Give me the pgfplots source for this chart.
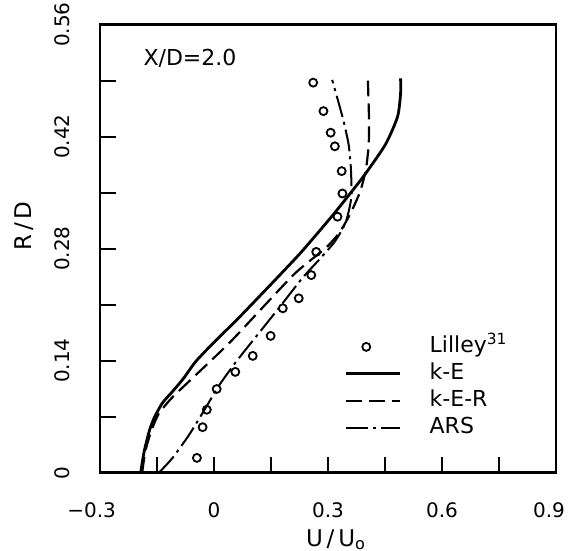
\documentclass[border=0pt]{standalone}
\usepackage{fontspec}
\setmainfont{DejaVu Sans}
\usepackage{pgfplots}
\pgfplotsset{compat=1.18}
\begin{document}
\begin{tikzpicture}
\begin{axis}[
  width=228pt, height=224pt, scale only axis,
  xmin=-0.3, xmax=0.9, ymin=0, ymax=0.56,
  xtick={-0.3,0,0.3,0.6,0.9}, xticklabels={\llap{−}0.3,0,0.3,0.6,\hspace*{-7pt}0.9},
  minor xtick={-0.15,0.15,0.45,0.75},
  ytick={0,0.14,0.28,0.42,0.56}, yticklabels={0,0.14,0.28,0.42,0.56},
  minor ytick={0.07,0.21,0.35,0.49},
  tick align=inside, tick pos=left,
  major tick length=8pt, minor tick length=8pt,
  every tick/.style={black, line width=1pt},
  axis line style={line width=1.4pt},
  ticklabel style={font=\fontsize{10}{12}\selectfont},
  yticklabel style={rotate=90, anchor=south},
  yticklabel shift=11.7pt, xticklabel shift=11.2pt,
  xlabel={U\,/\,U\textsubscript{o}}, ylabel={R\,/\,D},
  label style={font=\fontsize{11.5}{13}\selectfont},
  xlabel style={at={(axis description cs:0.5175,-0.1496)}, anchor=center},
  ylabel style={at={(axis description cs:-0.1667,0.551)}, anchor=center},
  legend image code/.code={\draw[#1] (0pt,0pt) -- (27pt,0pt);},
  legend cell align=left,
  legend style={draw=none, fill=none, inner sep=0pt, outer sep=0pt,
    font=\fontsize{11}{13}\selectfont,
    at={(axis description cs:0.537,0.311)}, anchor=north west,
    row sep=0pt, column sep=12.5pt,
    nodes={inner sep=1.5pt, text height=8pt, text depth=2.5pt}},
]
\addplot[only marks, mark=o, mark size=2pt, line width=0.9pt, black,
  legend image code/.code={\draw[black, line width=0.9pt] plot[mark=o, mark size=2pt] coordinates {(10pt,0pt)};}]
  coordinates {
  (0.261,0.4876) (0.288,0.452) (0.307,0.425) (0.318,0.408) (0.336,0.377)
  (0.338,0.349) (0.325,0.320) (0.269,0.276) (0.256,0.247) (0.223,0.218)
  (0.181,0.2055) (0.149,0.171) (0.102,0.146) (0.056,0.126) (0.007,0.1046)
  (-0.019,0.0787) (-0.030,0.0569) (-0.045,0.0185)
};
\addlegendentry{Lilley\textsuperscript{31}}
\addplot[black, line width=1.4pt, smooth, tension=0.4] coordinates {
  (-0.193,0) (-0.184,0.026) (-0.171,0.051) (-0.158,0.068) (-0.136,0.087)
  (-0.110,0.101) (-0.080,0.118) (-0.048,0.139) (0.000,0.163) (0.066,0.194)
  (0.171,0.246) (0.232,0.277) (0.311,0.321) (0.360,0.350) (0.399,0.374)
  (0.452,0.411) (0.483,0.445) (0.491,0.474) (0.491,0.493)
};
\addlegendentry{k-E}
\addplot[black, line width=1.1pt, smooth, tension=0.4, dash pattern=on 8pt off 3.5pt] coordinates {
  (-0.189,0) (-0.181,0.026) (-0.166,0.051) (-0.145,0.074) (-0.110,0.094)
  (-0.066,0.114) (0.040,0.162) (0.127,0.206) (0.215,0.250) (0.294,0.281)
  (0.330,0.300) (0.360,0.325) (0.385,0.352) (0.400,0.380) (0.407,0.410)
  (0.408,0.440) (0.405,0.490)
};
\addlegendentry{k-E-R}
\addplot[black, line width=1pt, smooth, tension=0.4, dash pattern=on 11pt off 2.5pt on 1.5pt off 2.5pt] coordinates {
  (-0.145,0) (-0.110,0.018) (-0.066,0.047) (-0.022,0.081) (0.009,0.106)
  (0.040,0.127) (0.066,0.1435) (0.171,0.206) (0.232,0.243) (0.280,0.268)
  (0.318,0.289) (0.345,0.311) (0.357,0.332) (0.362,0.349) (0.360,0.382)
  (0.354,0.411) (0.338,0.445) (0.311,0.491)
};
\addlegendentry{ARS}
\node[font=\fontsize{11}{13}\selectfont] at (axis cs:-0.0632,0.518) {X/D=2.0};
\end{axis}
\pgfresetboundingbox
\path[use as bounding box] (-50pt,-39pt) rectangle (234pt,236.35pt);
\end{tikzpicture}
\end{document}
